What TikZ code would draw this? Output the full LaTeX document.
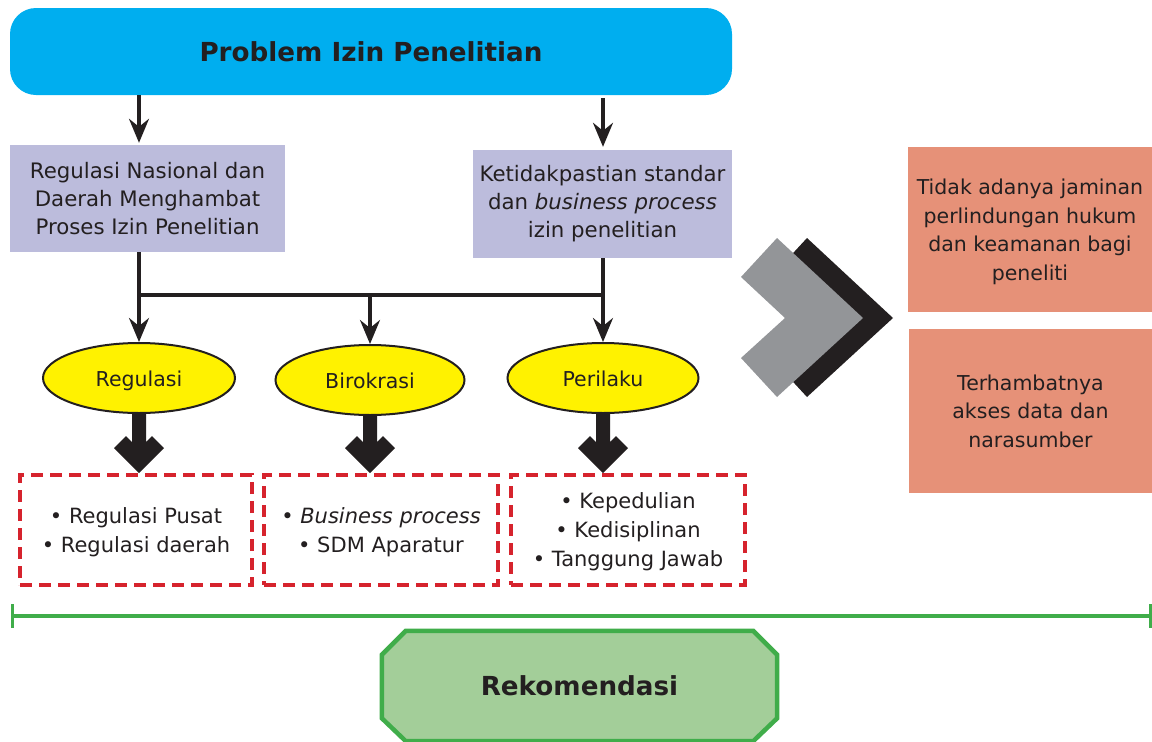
\documentclass[tikz,border=0pt]{standalone}
\usepackage{fontspec}
\setmainfont{DejaVu Sans}
\usetikzlibrary{arrows.meta,calc,shapes.geometric,backgrounds}
\definecolor{cyanbox}{RGB}{0,174,239}
\definecolor{lav}{RGB}{188,188,220}
\definecolor{yel}{RGB}{255,242,0}
\definecolor{dk}{RGB}{35,31,32}
\definecolor{redd}{RGB}{214,35,45}
\definecolor{salmon}{RGB}{230,145,120}
\definecolor{grn}{RGB}{64,173,74}
\definecolor{lgrn}{RGB}{163,206,153}
\definecolor{gry}{RGB}{147,149,152}
\newcommand\thickarr[2]{%
  \fill[dk] let \p1=(#1.south), \p2=(#2.north) in
    (\x1-7pt,\y1) -- (\x1-7pt,\y2+31pt) -- (\x1-13pt,\y2+37pt) -- (\x1-25pt,\y2+25pt)
    -- (\x1,\y2) -- (\x1+25pt,\y2+25pt) -- (\x1+13pt,\y2+37pt) -- (\x1+7pt,\y2+31pt)
    -- (\x1+7pt,\y1) -- cycle;}
\begin{document}
\begin{tikzpicture}[x=1pt,y=-1pt,
  every node/.style={text=dk, inner sep=0pt},
  bigbold/.style={font=\fontsize{26.2}{32}\selectfont\bfseries},
  topbox/.style={fill=cyanbox, rounded corners=26pt, minimum width=722pt, minimum height=87pt, bigbold},
  lavbox/.style={fill=lav, align=center, font=\fontsize{21.3}{28}\selectfont},
  ell/.style={ellipse, draw=dk, line width=2pt, fill=yel, font=\fontsize{20.5}{28}\selectfont,
     minimum height=70pt, text height=16pt, text depth=0pt},
  dbox/.style={draw=redd, line width=4pt, dash pattern=on 12pt off 7pt, align=center,
     minimum width=232pt, minimum height=110pt, font=\fontsize{21}{29}\selectfont, text depth=0pt},
  sbox/.style={fill=salmon, align=center, font=\fontsize{20.5}{28.5}\selectfont, text depth=-5pt},
  thinarr/.style={draw=dk, line width=3.2pt, -{Stealth[length=24pt,width=20pt,inset=8pt]}},
  conn/.style={draw=dk, line width=3.2pt}
]
\useasboundingbox (0,0) rectangle (1152,742);

% top
\node[topbox] (top) at (371,51.5) {Problem Izin Penelitian};

% lavender boxes
\node[lavbox, minimum width=275pt, minimum height=107pt] (b1) at (147.5,198.5)
  {Regulasi Nasional dan\\Daerah Menghambat\\Proses Izin Penelitian};
\node[lavbox, minimum width=259pt, minimum height=108pt] (b2) at (602.5,204)
  {Ketidakpastian standar\\dan \textit{business process}\\izin penelitian};

% ellipses
\node[ell, minimum width=192pt] (e1) at (139,378) {Regulasi};
\node[ell, minimum width=189pt] (e2) at (370,380) {Birokrasi};
\node[ell, minimum width=191pt] (e3) at (603,378) {Perilaku};

% dashed boxes
\node[dbox] (d1) at (136,530) {\textbullet{} Regulasi Pusat\\\textbullet{} Regulasi daerah};
\node[dbox, minimum width=234pt] (d2) at (381,530) {\textbullet{} \textit{Business process}\\\textbullet{} SDM Aparatur};
\node[dbox, minimum width=234pt] (d3) at (628,530) {\textbullet{} Kepedulian\\\textbullet{} Kedisiplinan\\\textbullet{} Tanggung Jawab};

% salmon boxes
\node[sbox, minimum width=244pt, minimum height=165pt] (s1) at (1030,229.5)
  {Tidak adanya jaminan\\perlindungan hukum\\dan keamanan bagi\\peneliti};
\node[sbox, minimum width=243pt, minimum height=164pt] (s2) at (1030.5,411)
  {Terhambatnya\\akses data dan\\narasumber};

% thin arrows
\draw[thinarr] (top.south -| e1) -- ([yshift=2pt]b1.north -| e1);
\draw[thinarr] ([yshift=-3pt]top.south -| e3) -- ([yshift=3pt]b2.north -| e3);
\coordinate (j1) at (139,295);
\coordinate (j3) at (603,295);
\draw[thinarr] (b1.south -| e1) -- (e1.north);
\draw[thinarr] (b2.south -| e3) -- (e3.north);
\draw[conn] ([xshift=-1.6pt]j1) -- ([xshift=1.6pt]j3);
\draw[thinarr] (j1 -| e2) -- (e2.north);

% thick arrows
\thickarr{e1}{d1}
\thickarr{e2}{d2}
\thickarr{e3}{d3}

% chevrons
\fill[dk] (807,238) -- (893,318) -- (807,397) -- (771,358) -- (815,318) -- (771,277) -- cycle;
\fill[gry] (777,238) -- (863,318) -- (777,397) -- (741,358) -- (785,318) -- (741,277) -- cycle;

% green line
\coordinate (gl) at (12,616);
\coordinate (gr) at (1150,616);
\draw[grn, line width=4.5pt] (gl) -- (gr);
\draw[grn, line width=3pt] ([yshift=12pt]gl) -- ([yshift=-12pt]gl);
\draw[grn, line width=3pt] ([yshift=12pt]gr) -- ([yshift=-12pt]gr);

% octagon
\node[minimum width=395pt, minimum height=110pt, bigbold] (rek) at (579.5,686) {Rekomendasi};
\begin{scope}[on background layer]
\draw[grn, line width=4.5pt, fill=lgrn, line join=miter]
  ([xshift=24pt]rek.north west) -- ([xshift=-24pt]rek.north east) -- ([yshift=-24pt]rek.north east)
  -- ([yshift=23pt]rek.south east) -- ([xshift=-24pt]rek.south east) -- ([xshift=24pt]rek.south west)
  -- ([yshift=23pt]rek.south west) -- ([yshift=-24pt]rek.north west) -- cycle;
\end{scope}
\end{tikzpicture}
\end{document}
